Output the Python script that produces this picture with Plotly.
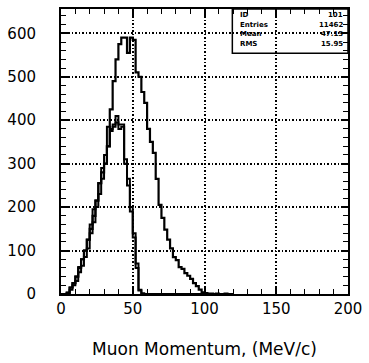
import plotly.graph_objects as go

# ---- data (2 MeV/c bins, lower bin edges from 0) ----
bin_width = 2
bin_starts = list(range(0, 120, 2))

# ID 101: all muons (large histogram)
counts_all = [0, 0, 3, 15, 25, 40, 60, 80, 100, 125,
              150, 180, 215, 255, 280, 300, 340, 425, 490, 540,
              575, 590, 590, 555, 590, 585, 510, 500, 465, 440,
              380, 350, 325, 265, 205, 175, 148, 125, 105, 85,
              78, 62, 58, 48, 42, 35, 25, 18, 10, 4,
              2, 1, 1, 0, 1, 0, 0, 1, 0, 0]

# smaller histograms (overlaid, nearly identical)
counts_sel_a = [0, 0, 3, 15, 25, 40, 62, 80, 100, 125,
                160, 195, 215, 255, 290, 320, 385, 380, 390, 410,
                390, 390, 310, 265, 200, 140, 70, 10, 2, 0,
                0, 0, 0, 0, 0, 0, 0, 0, 0, 0,
                0, 0, 0, 0, 0, 0, 0, 0, 0, 0,
                0, 0, 0, 0, 0, 0, 0, 0, 0, 0]
counts_sel_b = [0, 0, 2, 10, 20, 30, 50, 65, 85, 105,
                140, 165, 200, 230, 265, 300, 340, 375, 385, 395,
                380, 385, 300, 250, 190, 130, 60, 8, 0, 0,
                0, 0, 0, 0, 0, 0, 0, 0, 0, 0,
                0, 0, 0, 0, 0, 0, 0, 0, 0, 0,
                0, 0, 0, 0, 0, 0, 0, 0, 0, 0]

x_ticks = [0, 50, 100, 150, 200]
y_ticks = [0, 100, 200, 300, 400, 500, 600]

stats_labels = ["ID", "Entries", "Mean", "RMS"]
stats_values = ["101", "11462", "47.15", "15.95"]

FONT = "DejaVu Sans"


def step_xy(counts):
    xs = bin_starts + [bin_starts[-1] + bin_width]
    ys = counts + [counts[-1]]
    return xs, ys


fig = go.Figure()
for c, w in [(counts_sel_b, 2), (counts_sel_a, 2), (counts_all, 2.2)]:
    xs, ys = step_xy(c)
    fig.add_trace(go.Scatter(x=xs, y=ys, mode="lines", line_shape="hv",
                             line=dict(color="black", width=w),
                             showlegend=False, hoverinfo="skip"))

# stats box
box_x0 = 0.597
row_y = [13, 23, 32, 43]
plot_top, plot_h = 7, 290
for lab, val, ry in zip(stats_labels, stats_values, row_y):
    yy = 1 - (ry - plot_top) / plot_h
    fig.add_annotation(xref="paper", yref="paper", x=box_x0 + 0.02, y=yy,
                       text="<b>%s</b>" % lab, showarrow=False,
                       xanchor="left", yanchor="middle",
                       font=dict(family=FONT, size=7, color="black"))
    fig.add_annotation(xref="paper", yref="paper", x=0.99, y=yy,
                       text="<b>%s</b>" % val, showarrow=False,
                       xanchor="right", yanchor="middle",
                       font=dict(family=FONT, size=7, color="black"))
fig.add_shape(type="rect", xref="paper", yref="paper",
              x0=box_x0, x1=1, y0=1 - (52 - plot_top) / plot_h, y1=1,
              line=dict(color="black", width=1.5))

axis_common = dict(
    showline=True, linecolor="black", linewidth=2, mirror="allticks",
    ticks="inside", tickcolor="black", tickwidth=1.5, ticklen=7,
    showgrid=True, gridcolor="black", gridwidth=1.5, griddash="1.5px,2px",
    zeroline=False,
    tickfont=dict(family=FONT, size=15, color="black"),
)

fig.update_xaxes(range=[0, 200], tickvals=x_ticks,
                 minor=dict(dtick=10, ticks="inside", ticklen=5,
                            tickcolor="black", tickwidth=1.2, showgrid=False),
                 title=dict(text="Muon Momentum, (MeV/c)", standoff=26,
                            font=dict(family=FONT, size=17, color="black")),
                 **axis_common)
fig.update_yaxes(range=[0, 656], tickvals=y_ticks, ticklabelstandoff=20,
                 minor=dict(dtick=20, ticks="inside", ticklen=5,
                            tickcolor="black", tickwidth=1.2, showgrid=False),
                 **axis_common)

fig.update_layout(width=369, height=363,
                  margin=dict(l=59, r=19, t=7, b=66),
                  paper_bgcolor="white", plot_bgcolor="white")

fig.write_html("out.html")
